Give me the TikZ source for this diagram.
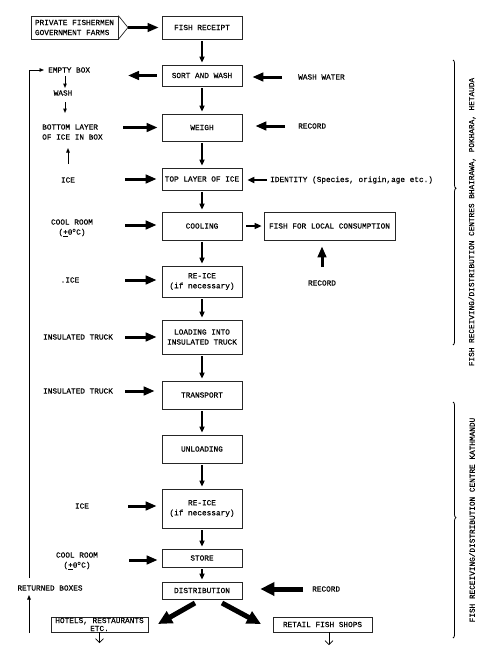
\documentclass[tikz,border=0pt]{standalone}
\usepackage{fontspec}
\setmonofont[FakeBold=0.5]{Liberation Mono}
\usetikzlibrary{arrows.meta,decorations.pathreplacing}
\begin{document}
\begin{tikzpicture}[x=1pt,y=-1pt,
  every node/.style={font=\ttfamily\fontsize{7.75}{10}\selectfont, inner sep=0pt},
  box/.style={draw=black!85, line width=0.7pt, minimum width=80pt, align=center},
  lbl/.style={align=left},
  darr/.style={line width=1.6pt, -{Triangle[length=6pt,width=5pt]}},
  harr/.style={line width=3pt, -{Triangle[length=11pt,width=8.5pt]}},
  marr/.style={line width=2pt, -{Triangle[length=7pt,width=6pt]}},
  barr/.style={line width=5pt, -{Triangle[length=14pt,width=13pt]}},
  tarr/.style={line width=0.8pt, -{Triangle[length=4.5pt,width=3.5pt]}},
  oarr/.style={line width=0.6pt, -{Straight Barb[length=4pt,width=8pt]}},
  bracel/.style={line width=0.8pt, decorate},
]
\useasboundingbox (0,0) rectangle (500,670);

% source
\node[box, minimum width=87pt, minimum height=23pt, align=left] (src) at (74.5,27.5) {PRIVATE FISHERMEN\\GOVERNMENT FARMS};
\coordinate (srctip) at (128,27.5);
\draw[draw=black!85, line width=0.7pt] (src.north east) -- (srctip) -- (src.south east);

% main column
\node[box, minimum height=23pt] (rec) at (202,27.5) {FISH RECEIPT};
\node[box, minimum height=21pt] (sort) at (202,75.5) {SORT AND WASH};
\node[box, minimum height=27pt] (weigh) at (202,127.5) {WEIGH};
\node[box, minimum height=22pt] (top) at (202,179) {TOP LAYER OF ICE};
\node[box, minimum height=28pt] (cool) at (202,226) {COOLING};
\node[box, minimum height=31pt] (reiceA) at (202,281.5) {RE-ICE\\(if necessary)};
\node[box, minimum height=34pt] (load) at (202,337) {LOADING INTO\\INSULATED TRUCK};
\node[box, minimum height=28pt] (trans) at (202,395) {TRANSPORT};
\node[box, minimum height=28pt] (unload) at (202,449) {UNLOADING};
\node[box, minimum height=39pt] (reiceB) at (202,508.5) {RE-ICE\\(if necessary)};
\node[box, minimum height=18pt] (store) at (202,558) {STORE};
\node[box, minimum height=17pt] (dist) at (202,590.5) {DISTRIBUTION};
\node[box, minimum width=131pt, minimum height=28pt] (local) at (329.5,226) {FISH FOR LOCAL CONSUMPTION};
\node[box, minimum width=97pt, minimum height=15pt, font=\ttfamily\fontsize{7.75}{8}\selectfont] (hotels) at (99.5,624.5) {HOTELS, RESTAURANTS\\ETC.};
\node[box, minimum width=99pt, minimum height=15pt] (retail) at (322.5,624.5) {RETAIL FISH SHOPS};

% vertical flow arrows
\draw[harr, line width=2.5pt, shorten >=3pt] (srctip) -- (rec.west);
\foreach \a/\b in {rec/sort, sort/weigh, weigh/top, top/cool, cool/reiceA, reiceA/load, load/trans, trans/unload, unload/reiceB, reiceB/store, store/dist}
  \draw[darr, shorten <=2pt, shorten >=2pt] (\a.south) -- (\b.north);

% left labels
\node[anchor=west] (empty) at (48,70) {EMPTY BOX};
\node (wash) at (63,93) {WASH};
\node[anchor=west, lbl] (bottom) at (42,132) {BOTTOM LAYER\\OF ICE IN BOX};
\node (iceA) at (68,180) {ICE};
\node[align=center] (crA) at (72,228) {COOL ROOM\\(\underline{+}0\textsuperscript{o}C)};
\node (iceB) at (70,280) {.ICE};
\node (itA) at (78,337) {INSULATED TRUCK};
\node (itB) at (78,391) {INSULATED TRUCK};
\node (iceC) at (82,506) {ICE};
\node[align=center] (crB) at (77,561) {COOL ROOM\\(\underline{+}0\textsuperscript{o}C)};
\node (ret) at (50,588) {RETURNED BOXES};

% left column small arrows
\coordinate (la0) at (65,76); \coordinate (la1) at (65,88);
\coordinate (la2) at (65,102); \coordinate (la3) at (65,113);
\coordinate (la4) at (68,164); \coordinate (la5) at (68,148);
\draw[tarr, line width=1pt] (la0) -- (la1);
\draw[tarr, line width=1pt] (la2) -- (la3);
\draw[tarr, line width=1pt] (la4) -- (la5);

% feedback loop
\coordinate (fb0) at (29,633); \coordinate (fb1) at (29,595);
\coordinate (fb2) at (29,578); \coordinate (fb3) at (44,70);
\draw[tarr] (fb0) -- (fb1);
\draw[tarr] (fb2) |- (fb3);

% left inputs
\coordinate (sl) at (128,75.5);
\draw[harr, shorten <=5pt] (sort.west) -- (sl);
\coordinate (hb) at (123,127.5); \draw[harr, shorten >=4pt] (hb) -- (hb -| weigh.west);
\coordinate (hc) at (125,179);   \draw[harr, shorten >=5pt] (hc) -- (hc -| top.west);
\coordinate (hd) at (125,225);   \draw[harr, shorten >=5pt] (hd) -- (hd -| cool.west);
\coordinate (he) at (125,280);   \draw[harr, shorten >=5pt] (he) -- (he -| reiceA.west);
\coordinate (hf) at (125,337);   \draw[harr, shorten >=5pt] (hf) -- (hf -| load.west);
\coordinate (hg) at (125,391);   \draw[harr, shorten >=7pt] (hg) -- (hg -| trans.west);
\coordinate (hh) at (128,506);   \draw[harr, shorten >=5pt] (hh) -- (hh -| reiceB.west);
\coordinate (hi) at (129,560);   \draw[harr, shorten >=4pt] (hi) -- (hi -| store.west);

% right inputs
\node[anchor=west] (ww) at (298,77) {WASH WATER};
\coordinate (wwt) at (282,77); \draw[harr, shorten >=10pt] (wwt) -- (wwt -| sort.east);
\node[anchor=west] (rcA) at (298,126) {RECORD};
\coordinate (rcAt) at (285,126); \draw[harr, shorten >=13pt] (rcAt) -- (rcAt -| weigh.east);
\node[anchor=west] (idn) at (270,180) {IDENTITY (Species, origin,age etc.)};
\draw[marr, shorten <=3pt, shorten >=5pt] (idn.west) -- (idn.west -| top.east);
\draw[marr, line width=1.5pt, shorten <=4pt, shorten >=2pt] (cool.east) -- (local.west);
\node (rcB) at (322,283) {RECORD};
\coordinate (rcBt) at (322,267); \draw[harr, shorten >=6pt] (rcBt) -- (rcBt |- local.south);
\node[anchor=west] (rcC) at (312,589) {RECORD};
\coordinate (rcCt) at (303,589); \draw[barr, shorten >=18pt] (rcCt) -- (rcCt -| dist.east);

% distribution
\coordinate (dl0) at (195,603); \coordinate (dl1) at (158,624);
\coordinate (dr0) at (222,603); \coordinate (dr1) at (261,624);
\draw[barr] (dl0) -- (dl1);
\draw[barr] (dr0) -- (dr1);
\coordinate (h1) at (99.5,643);
\draw[oarr] (hotels.south) -- (h1);
\coordinate (r0) at (329,632); \coordinate (r1) at (329,645);
\draw[oarr] (r0) -- (r1);

% braces
\draw[bracel, decoration={brace, amplitude=3pt, aspect=0.45}] (453,60) -- (453,345);
\draw[bracel, decoration={brace, amplitude=3pt, aspect=0.49}] (453,402) -- (453,638);
\node[rotate=90] (labA) at (472,222) {FISH RECEIVING/DISTRIBUTION CENTRES BHAIRAWA, POKHARA, HETAUDA};
\node[rotate=90] (labB) at (472,520) {FISH RECEIVING/DISTRIBUTION CENTRE KATHMANDU};
\end{tikzpicture}
\end{document}
